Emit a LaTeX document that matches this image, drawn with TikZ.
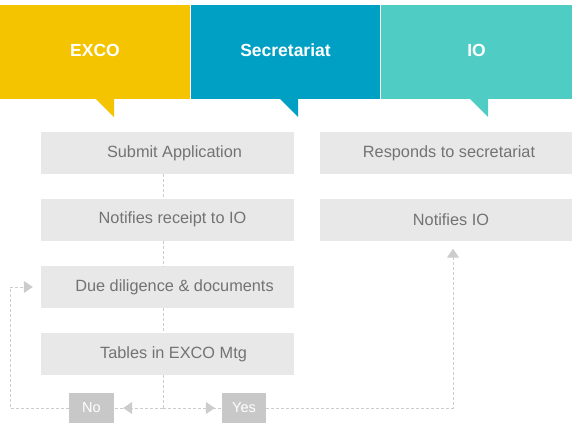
\documentclass[tikz,border=0pt]{standalone}
\usepackage{fontspec}
\setmainfont{Liberation Sans}
\usetikzlibrary{arrows.meta,decorations.markings}
\definecolor{cexco}{HTML}{F5C400}
\definecolor{csec}{HTML}{009FC4}
\definecolor{cio}{HTML}{4FCDC4}
\definecolor{cbox}{HTML}{E8E8E8}
\definecolor{ctxt}{HTML}{737373}
\definecolor{cyn}{HTML}{C8C8C8}
\definecolor{cline}{HTML}{CCCCCC}
\tikzset{
  hdr/.style={fill=#1, draw=none, minimum width=190pt, minimum height=94pt, inner sep=0pt,
    text=white, font=\fontsize{17.5}{20}\selectfont\bfseries},
  tail/.style={fill=#1, draw=none},
  stepbox/.style={fill=cbox, draw=none, minimum height=42pt, inner sep=0pt,
    text=ctxt, font=\fontsize{16.3}{18}\selectfont},
  yn/.style={fill=cyn, draw=none, minimum height=30pt, inner sep=0pt,
    text=white, font=\fontsize{14.5}{16}\selectfont},
  conn/.style={draw=cline, line width=1pt, dash pattern=on 3pt off 2pt},
  tip/.style={-{Triangle[length=9pt,width=12pt,fill=cline,color=cline]}},
  midtip/.style={postaction={decorate}, decoration={markings,
    mark=at position -#1 with {\arrow[solid]{Triangle[length=9pt,width=12pt,fill=cline,color=cline]}}}}
}
\begin{document}
\begin{tikzpicture}[x=1pt,y=-1pt]
\useasboundingbox (0,0) rectangle (572,426);
% headers
\node[hdr=cexco] (hexco) at (95,52) {\raisebox{3pt}{EXCO}};
\node[hdr=csec, minimum width=189pt] (hsec) at (285.5,52) {\raisebox{3pt}{Secretariat}};
\node[hdr=cio, minimum width=191pt] (hio) at (476.5,52) {\raisebox{3pt}{IO}};
\fill[tail=cexco] (95,98) -- (114,98) -- (114,117) -- cycle;
\fill[tail=csec] (279,98) -- (298,98) -- (298,117) -- cycle;
\fill[tail=cio] (469,98) -- (488,98) -- (488,117) -- cycle;
% left column
\node[stepbox, minimum width=253pt] (sub) at (167.5,153) {\hspace*{14pt}Submit Application};
\node[stepbox, minimum width=253pt] (rec) at (167.5,219.5) {\hspace*{10pt}Notifies receipt to IO};
\node[stepbox, minimum width=253pt] (due) at (167.5,287) {\hspace*{14pt}Due diligence \& documents};
\node[stepbox, minimum width=253pt] (tab) at (167.5,354) {\hspace*{12pt}Tables in EXCO Mtg};
% right column
\node[stepbox, minimum width=252pt] (resp) at (446,153) {\hspace*{6pt}Responds to secretariat};
\node[stepbox, minimum width=252pt] (nio) at (446,219.5) {\hspace*{10pt}Notifies IO};
% yes / no
\node[yn, minimum width=45pt] (no) at (91.5,408) {No};
\node[yn, minimum width=44pt] (yes) at (244,408) {Yes};
% connectors
\coordinate (cx) at (163,0);
\coordinate (j) at (163,408);
\draw[conn] (sub.south -| cx) -- (rec.north -| cx);
\draw[conn] (rec.south -| cx) -- (due.north -| cx);
\draw[conn] (due.south -| cx) -- (tab.north -| cx);
\draw[conn] (tab.south -| cx) -- (j);
\draw[conn, midtip=9pt] (j) -- (no.east);
\draw[conn, midtip=7pt] (j) -- (yes.west);
\draw[conn, tip, shorten >=8pt] (no.west) -- (10,408) -- (10,287) -- (due.west);
\draw[conn, tip, shorten >=8pt] (yes.east) -- (453,408) -- (nio.south -| 453,0);
\end{tikzpicture}
\end{document}
